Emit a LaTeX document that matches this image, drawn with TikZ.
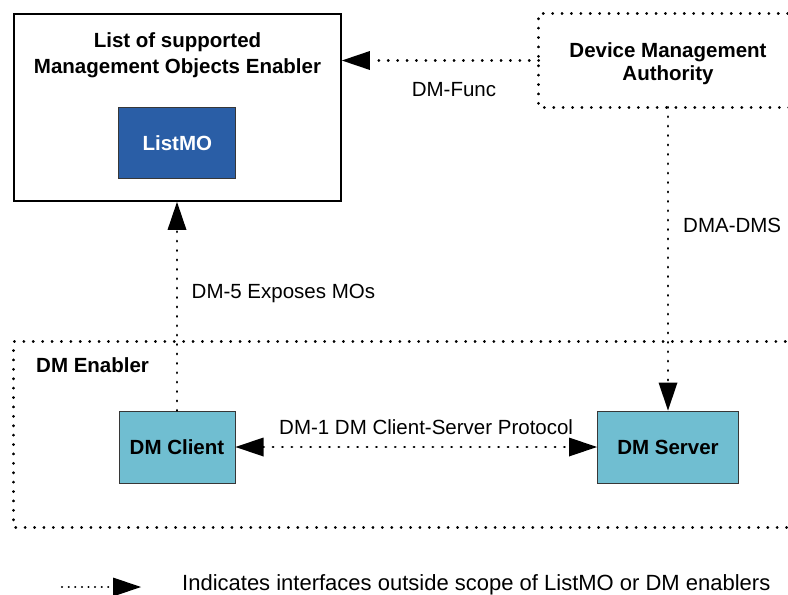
\documentclass[tikz,border=0pt]{standalone}
\usepackage{fontspec}
\setmainfont{Liberation Sans}
\usetikzlibrary{arrows.meta}
\definecolor{moblue}{RGB}{42,94,166}
\definecolor{dmcyan}{RGB}{112,190,209}
\definecolor{edgegray}{RGB}{55,55,55}
\tikzset{
  lbl/.style={inner sep=0pt, font=\fontsize{20.5}{24}\selectfont},
  blbl/.style={inner sep=0pt, font=\fontsize{20.5}{24}\selectfont\bfseries},
  dotline/.style={line width=2.7pt, line cap=round, dash pattern=on 0.3pt off 9.1pt},
  arrowfwd/.style={-{Triangle[length=28pt,width=19pt,line width=0pt]}},
  arrowboth/.style={{Triangle[length=28pt,width=19pt,line width=0pt]}-{Triangle[length=28pt,width=19pt,line width=0pt]}},
  enabler/.style={fill=dmcyan, draw=edgegray, line width=1pt, minimum height=72pt},
}
\begin{document}
\begin{tikzpicture}[x=1pt,y=-1pt]
\useasboundingbox (0,0) rectangle (788,595);
% ListMO enabler
\node[draw=black, line width=1.8pt, minimum width=327pt, minimum height=187pt, inner sep=0pt] (outer) at (177.5,107.5) {};
\node[blbl, anchor=base] (title1) at (177.5,47) {List of supported};
\node[blbl, anchor=base] (title2) at (177.5,73) {Management Objects Enabler};
\node[blbl, fill=moblue, draw=edgegray, line width=1pt, minimum width=117pt, minimum height=71pt, text=white] (listmo) at (177.3,143) {ListMO};
% Device Management Authority
\node[minimum width=258pt, minimum height=93pt, inner sep=0pt] (dma) at (668,60.5) {};
\draw[dotline] (dma.north east) -- (dma.north west) -- (dma.south west) -- (dma.south east);
\node[blbl, anchor=base] (dmat1) at (668,57.3) {Device Management};
\node[blbl, anchor=base] (dmat2) at (668,80) {Authority};
% DM Enabler
\node[minimum width=790pt, minimum height=185pt, inner sep=0pt] (dmen) at (409,434.5) {};
\draw[dotline] (dmen.north east) -- (dmen.north west) -- (dmen.south west) -- (dmen.south east);
\node[blbl, anchor=base west] (dmenl) at (36,372.5) {DM Enabler};
\node[blbl, enabler, minimum width=116pt] (client) at (177,447) {DM Client};
\node[blbl, enabler, minimum width=141pt] (server) at (668,447) {DM Server};
% connectors
\draw[dotline, arrowfwd] (dma.west) -- (dma.west -| outer.east);
\draw[dotline, arrowfwd] (dma.south) -- (server.north);
\draw[dotline, arrowfwd] (client.north) -- (client.north |- outer.south);
\draw[dotline, arrowboth] (client.east) -- (server.west);
% labels
\node[lbl, anchor=base] (dmfunc) at (454,96) {DM-Func};
\node[lbl, anchor=base west] (dmadms) at (683,232) {DMA-DMS};
\node[lbl, anchor=base west] (dm5) at (191.5,298) {DM-5 Exposes MOs};
\node[lbl, anchor=base west] (dm1) at (279,434) {DM-1 DM Client-Server Protocol};
% legend
\coordinate (lg1) at (62,587);
\coordinate (lg2) at (141,587);
\draw[line width=2.1pt, line cap=round, dash pattern=on 0.2pt off 6.4pt, arrowfwd] (lg1) -- (lg2);
\node[inner sep=0pt, font=\fontsize{22}{24}\selectfont, anchor=base west] (legend) at (182,590.5) {Indicates interfaces outside scope of ListMO or DM enablers};
\end{tikzpicture}
\end{document}
